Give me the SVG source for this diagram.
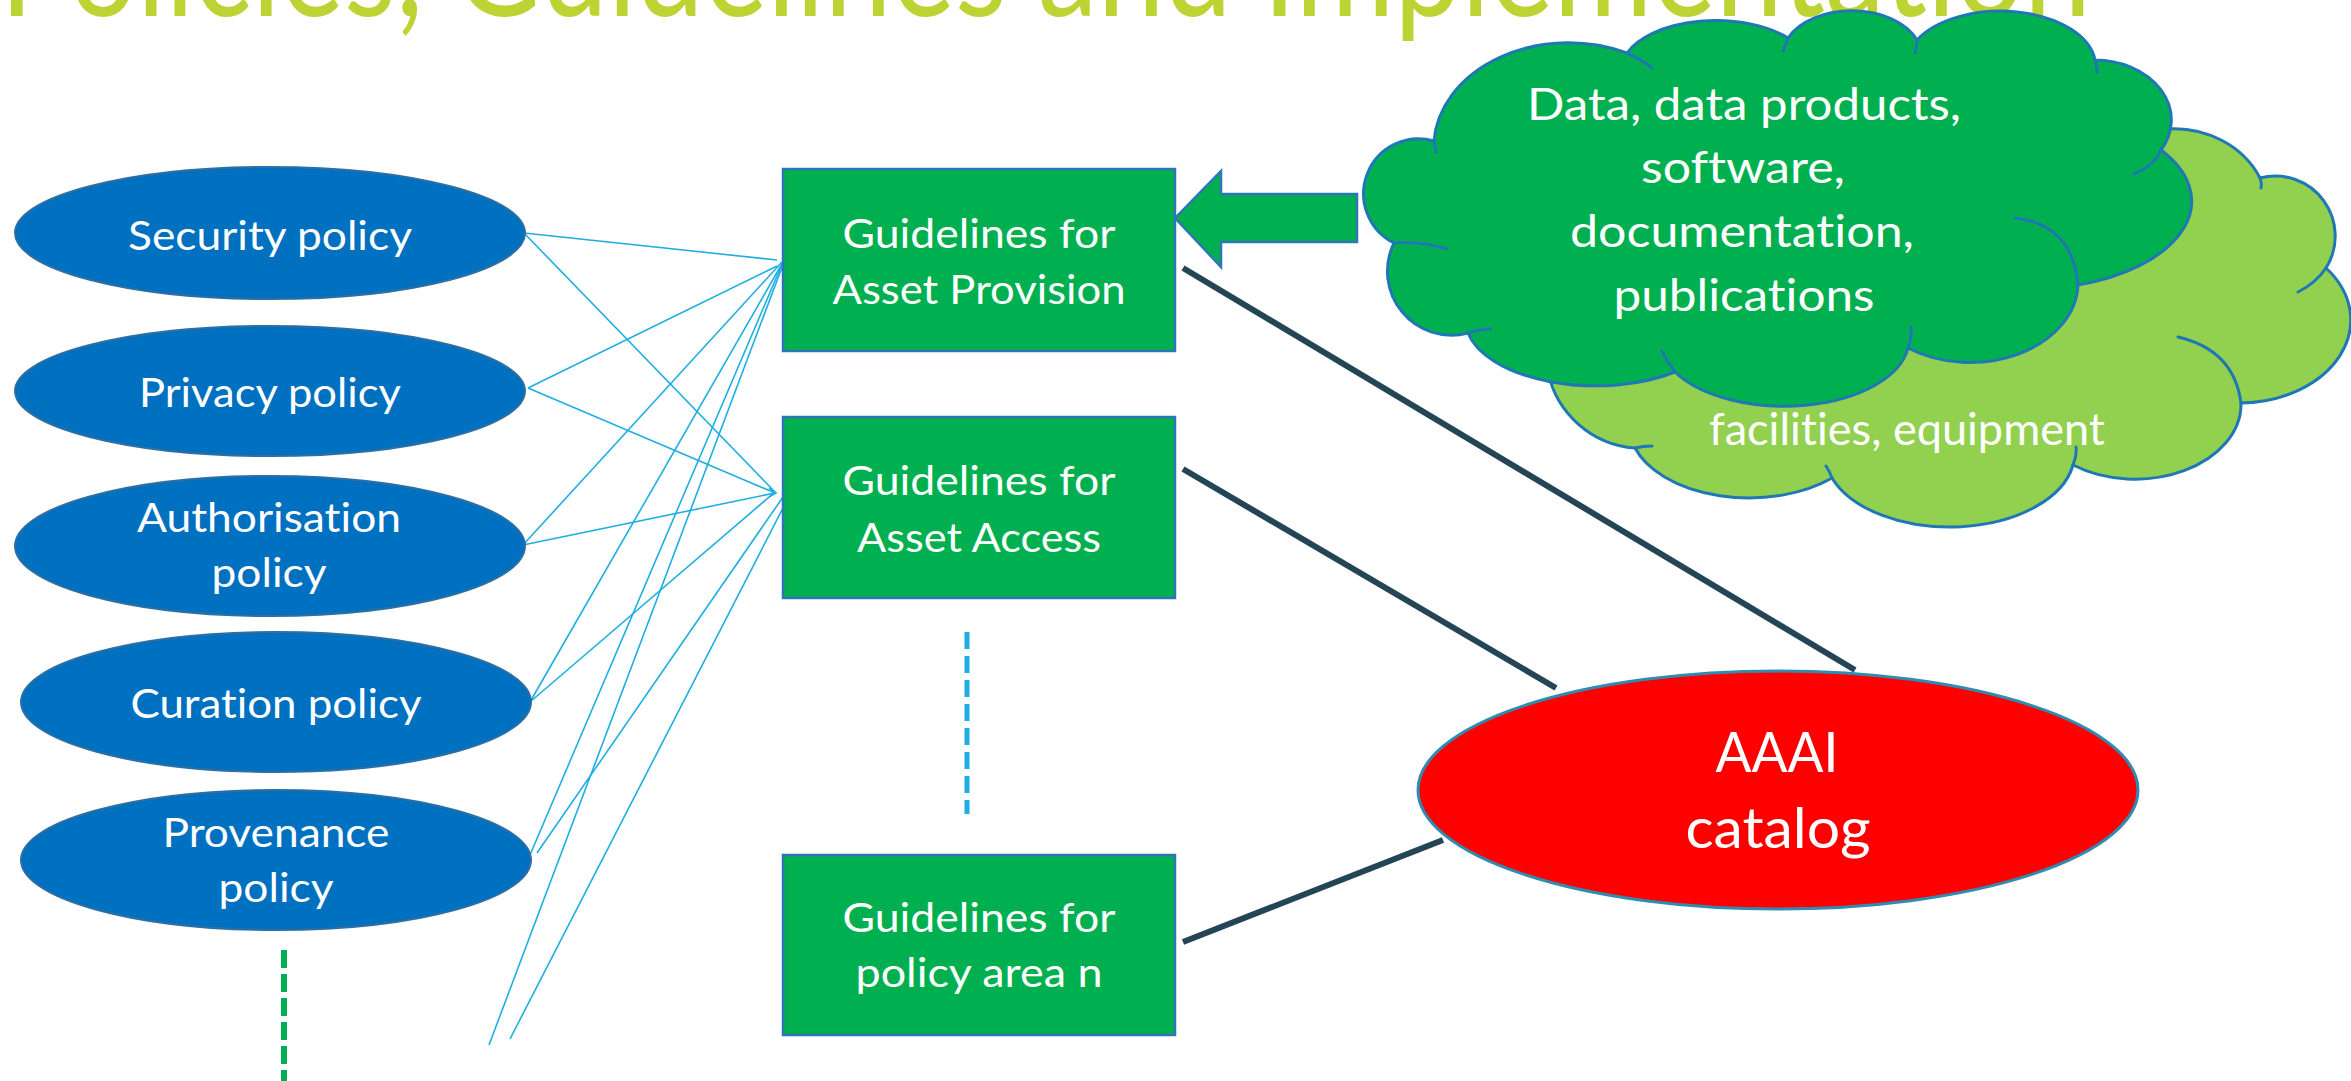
<svg xmlns="http://www.w3.org/2000/svg" width="2351" height="1081" viewBox="0 0 2351 1081">
  <style>
    text { font-variant-ligatures: none; font-feature-settings: "liga" 0, "clig" 0; }
    .lbl { font-family: Lato, "Open Sans", "Liberation Sans", sans-serif; fill: #ffffff; text-anchor: middle; }
    .s { font-size: 41px; }
    .m { font-size: 45px; }
    .l { font-size: 56px; }
    .policy ellipse { fill: #0070C0; stroke: #2E6FA3; stroke-width: 2; }
    .guide rect { fill: #00B050; stroke: #2E75B6; stroke-width: 2.5; }
    .fan line { stroke: #1FAEE2; stroke-width: 1.6; }
    .link line { stroke: #244556; stroke-width: 6; }
    .cloud { stroke: #1F78B4; stroke-width: 3; stroke-linejoin: round; }
    .tail { fill: none; stroke: #1F78B4; stroke-width: 3; stroke-linecap: round; }
    .dash-green { stroke: #00B050; stroke-width: 6; stroke-dasharray: 18 6; }
    .dash-blue { stroke: #1FAEE2; stroke-width: 5; stroke-dasharray: 17 7; }
  </style>

  <rect width="2351" height="1081" fill="#ffffff"/>

  <!-- slide title, partly above the top edge -->
  <text x="0" y="16" font-family="Lato, 'Liberation Sans', sans-serif" font-size="145" fill="#BDD333" textLength="2091" lengthAdjust="spacingAndGlyphs">Policies, Guidelines and Implementation</text>

  <!-- connectors -->
  <g id="connectors">
    <g class="fan">
      <line x1="524" y1="233" x2="777" y2="260"/>
      <line x1="524" y1="233" x2="775" y2="492"/>
      <line x1="528" y1="388" x2="777" y2="266"/>
      <line x1="528" y1="388" x2="775" y2="493"/>
      <line x1="523" y1="545" x2="782" y2="262"/>
      <line x1="523" y1="545" x2="775" y2="493"/>
      <line x1="530" y1="702" x2="783" y2="262"/>
      <line x1="530" y1="702" x2="775" y2="492"/>
      <line x1="530" y1="855" x2="783" y2="262"/>
      <line x1="537" y1="853" x2="783" y2="497"/>
      <line x1="489" y1="1045" x2="784" y2="262"/>
      <line x1="510" y1="1039" x2="783" y2="508"/>
      <path d="M769,488 L776,493 L769,497" fill="none" stroke="#1FAEE2" stroke-width="1.6"/>
    </g>
    <g class="link">
      <line x1="1183" y1="268" x2="1855" y2="670"/>
      <line x1="1183" y1="469" x2="1556" y2="688"/>
      <line x1="1183" y1="942" x2="1443" y2="840"/>
    </g>
    <line class="dash-green" x1="284" y1="950" x2="284" y2="1081"/>
    <line class="dash-blue" x1="967" y1="632" x2="967" y2="814"/>
  </g>

  <!-- policy ellipses -->
  <g id="security-policy" class="policy">
    <ellipse cx="270" cy="233" rx="255" ry="66"/>
    <text class="lbl s" x="270" y="250" textLength="284" lengthAdjust="spacingAndGlyphs">Security policy</text>
  </g>
  <g id="privacy-policy" class="policy">
    <ellipse cx="270" cy="391" rx="255" ry="65"/>
    <text class="lbl s" x="270" y="407" textLength="262" lengthAdjust="spacingAndGlyphs">Privacy policy</text>
  </g>
  <g id="authorisation-policy" class="policy">
    <ellipse cx="270" cy="546" rx="255" ry="70"/>
    <text class="lbl s" x="269" y="532" textLength="264" lengthAdjust="spacingAndGlyphs">Authorisation</text>
    <text class="lbl s" x="269" y="587" textLength="115" lengthAdjust="spacingAndGlyphs">policy</text>
  </g>
  <g id="curation-policy" class="policy">
    <ellipse cx="276" cy="702" rx="255" ry="70"/>
    <text class="lbl s" x="276" y="718" textLength="291" lengthAdjust="spacingAndGlyphs">Curation policy</text>
  </g>
  <g id="provenance-policy" class="policy">
    <ellipse cx="276" cy="860" rx="255" ry="70"/>
    <text class="lbl s" x="276" y="847" textLength="227" lengthAdjust="spacingAndGlyphs">Provenance</text>
    <text class="lbl s" x="276" y="902" textLength="115" lengthAdjust="spacingAndGlyphs">policy</text>
  </g>

  <!-- guideline boxes -->
  <g id="guidelines-provision" class="guide">
    <rect x="783" y="169" width="392" height="182"/>
    <text class="lbl s" x="979" y="248" textLength="273" lengthAdjust="spacingAndGlyphs">Guidelines for</text>
    <text class="lbl s" x="979" y="304" textLength="293" lengthAdjust="spacingAndGlyphs">Asset Provision</text>
  </g>
  <g id="guidelines-access" class="guide">
    <rect x="783" y="417" width="392" height="181"/>
    <text class="lbl s" x="979" y="495" textLength="273" lengthAdjust="spacingAndGlyphs">Guidelines for</text>
    <text class="lbl s" x="979" y="552" textLength="244" lengthAdjust="spacingAndGlyphs">Asset Access</text>
  </g>
  <g id="guidelines-area-n" class="guide">
    <rect x="783" y="855" width="392" height="180"/>
    <text class="lbl s" x="979" y="932" textLength="273" lengthAdjust="spacingAndGlyphs">Guidelines for</text>
    <text class="lbl s" x="979" y="987" textLength="247" lengthAdjust="spacingAndGlyphs">policy area n</text>
  </g>

  <!-- back cloud: facilities and equipment -->
  <g id="cloud-facilities">
    <path class="cloud" fill="#92D050" d="M2166,129 A95,85 0 0 1 2260,178 A60,60 0 0 1 2326,268 A112,83 0 0 1 2241,403 A106,75 0 0 1 2073,465 A125,74 0 0 1 1832,478 A120,72 0 0 1 1635,448 A96,96 0 0 1 1548,372 L1600,300 L1900,200 Z"/>
    <path class="tail" d="M2260,178 Q2262,183 2261,188 M2326,268 Q2316,283 2298,292 M2241,403 Q2234,350 2178,337 M2073,465 Q2077,456 2076,447 M1832,478 Q1830,472 1826,466 M1635,448 Q1643,446 1652,446"/>
    <text class="lbl m" x="1907" y="445" textLength="396" lengthAdjust="spacingAndGlyphs">facilities, equipment</text>
  </g>

  <!-- front cloud: digital assets -->
  <g id="cloud-assets">
    <path class="cloud" fill="#00B050" d="M1434,141 A135,105 0 0 1 1627,53 A95,50 0 0 1 1788,38 A70,46 0 0 1 1917,40 A95,55 0 0 1 2095,60 A77,60 0 0 1 2161,150 A164,88 0 0 1 2078,285 A108,80 0 0 1 1908,348 A125,67 0 0 1 1675,372 A130,66 0 0 1 1468,333 A64,64 0 0 1 1394,243 A55,55 0 0 1 1434,141 Z"/>
    <path class="tail" d="M1627,53 Q1641,59 1652,68 M1788,38 Q1786,44 1783,51 M1917,40 Q1917,46 1915,53 M2095,60 Q2097,66 2097,72 M2161,150 Q2155,165 2134,174 M2078,285 Q2073,225 2015,218 M1908,348 Q1912,338 1911,327 M1675,372 Q1667,362 1662,351 M1468,333 Q1480,329 1491,329 M1394,243 Q1420,241 1447,249 M1434,141 Q1435,146 1436,152"/>
    <text class="lbl m" x="1744" y="120" textLength="434" lengthAdjust="spacingAndGlyphs">Data, data products,</text>
    <text class="lbl m" x="1743" y="183" textLength="204" lengthAdjust="spacingAndGlyphs">software,</text>
    <text class="lbl m" x="1742" y="247" textLength="344" lengthAdjust="spacingAndGlyphs">documentation,</text>
    <text class="lbl m" x="1744" y="311" textLength="261" lengthAdjust="spacingAndGlyphs">publications</text>
  </g>

  <!-- block arrow from the assets cloud to the provision guidelines -->
  <g id="provision-arrow">
    <polygon points="1175,218 1221,171 1221,194 1357,194 1357,242 1221,242 1221,267" fill="#00B050" stroke="#2E75B6" stroke-width="2.5" stroke-linejoin="miter"/>
  </g>

  <!-- catalog -->
  <g id="aaai-catalog">
    <ellipse cx="1778" cy="790" rx="360" ry="119" fill="#FF0000" stroke="#2F8CB0" stroke-width="3"/>
    <text class="lbl l" x="1777" y="772" textLength="123" lengthAdjust="spacingAndGlyphs">AAAI</text>
    <text class="lbl l" x="1778" y="848" textLength="185" lengthAdjust="spacingAndGlyphs">catalog</text>
  </g>
</svg>
